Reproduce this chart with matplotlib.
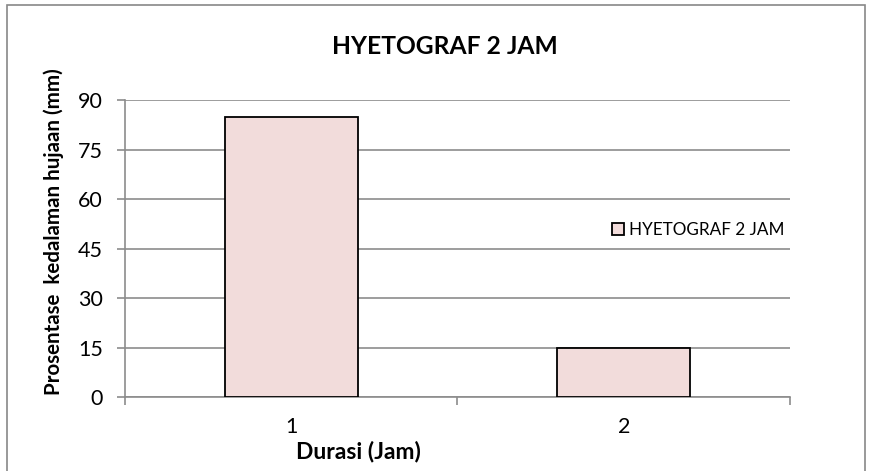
import matplotlib
matplotlib.use("Agg")
import matplotlib.pyplot as plt
from matplotlib.patches import Rectangle

categories = ["1", "2"]
values = [85, 15]
series_name = "HYETOGRAF 2 JAM"
yticks = [0, 15, 30, 45, 60, 75, 90]

plt.rcParams['font.family'] = ['Lato', 'DejaVu Sans']

W, H = 870, 471
fig = plt.figure(figsize=(W/100, H/100), dpi=100)
fig.patch.set_facecolor('white')
fig.patches.append(Rectangle((7/W, -0.05), 858/W, 1.05 - 4.5/H, transform=fig.transFigure,
                             fill=False, edgecolor='#888888', linewidth=1.2))

ax = fig.add_axes([125/W, 1-397/H, 665/W, 297/H])
x = list(range(len(categories)))
bars = ax.bar(x, values, width=0.4, color='#F2DCDB', edgecolor='black', linewidth=1.3,
              label=series_name, zorder=3)
ax.set_xlim(-0.5, len(categories)-0.5)
ax.set_ylim(0, 90)
ax.set_yticks(yticks)
ax.set_yticklabels([str(v) for v in yticks], fontsize=15.5)
ax.yaxis.grid(True, color='#8c8c8c', linewidth=1.2, zorder=0)
ax.set_axisbelow(True)
for s in ['top', 'right']:
    ax.spines[s].set_visible(False)
for s in ['left', 'bottom']:
    ax.spines[s].set_color('#8c8c8c')
    ax.spines[s].set_linewidth(1.2)
ax.tick_params(axis='y', length=6, color='#8c8c8c', width=1.2, pad=10)
ax.set_xticks([-0.5, 0.5, 1.5])
ax.set_xticklabels([])
ax.tick_params(axis='x', length=6, color='#8c8c8c', width=1.2)
for i, c in enumerate(categories):
    ax.text(i, -30/297, c, transform=ax.get_xaxis_transform(), ha='center', va='center', fontsize=15.5)

fig.text(445/W, 1-46/H, "HYETOGRAF 2 JAM", ha='center', va='center', fontsize=17.7, fontweight='bold')
fig.text(358/W, 1-452/H, "Durasi (Jam)", ha='center', va='center', fontsize=16.5, fontweight='bold')
fig.text(54/W, 1-232/H, "Prosentase  kedalaman hujaan (mm)", ha='center', va='center',
         rotation=90, fontsize=14.8, fontweight='bold')

leg = fig.legend(handles=[bars], labels=[series_name], loc='center left',
                 bbox_to_anchor=(603/W, 1-230/H), frameon=False, fontsize=12.3,
                 handlelength=0.7, handleheight=0.7, handletextpad=0.3, borderpad=0)

fig.savefig("out.png", dpi=100, facecolor='white')
